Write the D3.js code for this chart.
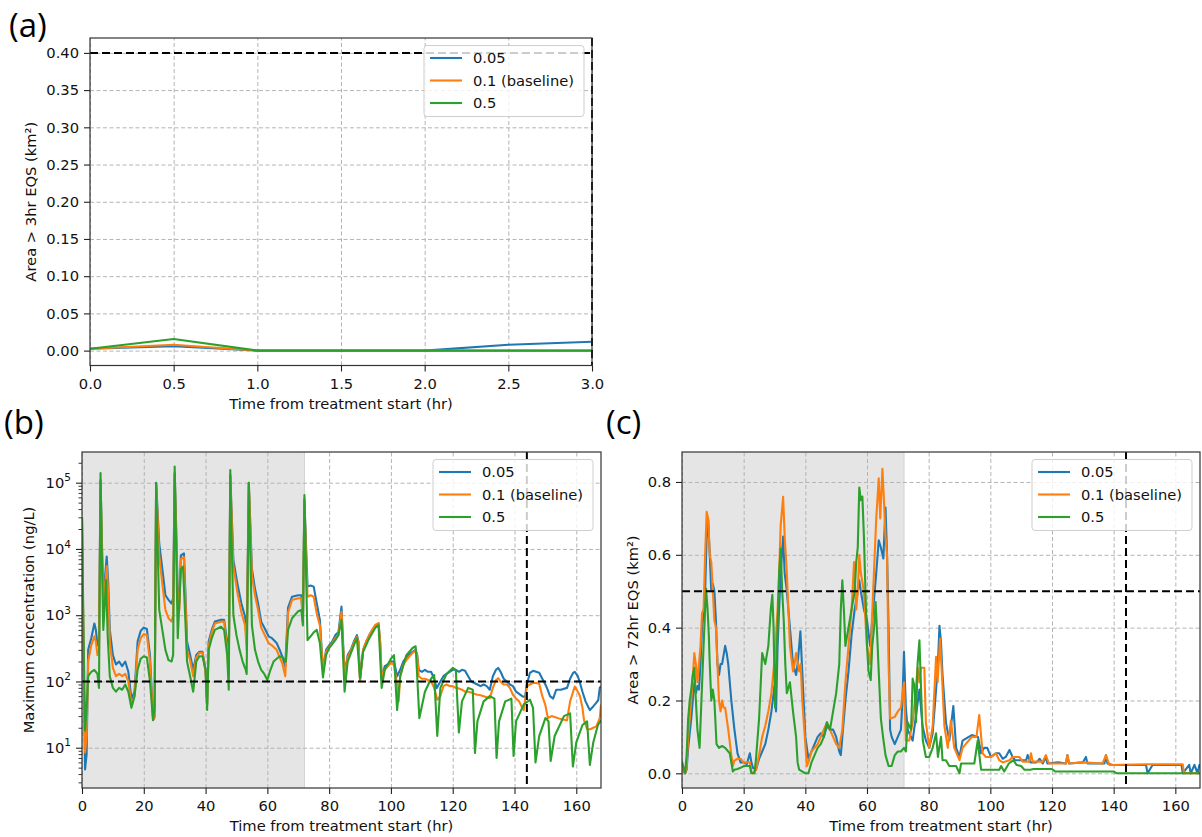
<!DOCTYPE html>
<html>
<head>
<meta charset="utf-8">
<script src="https://cdn.jsdelivr.net/npm/d3@7"></script>
<style>
  body { margin: 0; background: #fff; }
  svg { display: block; font-family: 'DejaVu Sans', sans-serif; }
</style>
</head>
<body>
<div id="chart-area"></div>
<script>
// series names and colours (matplotlib tab10)
const seriesNames = ['0.05', '0.1 (baseline)', '0.5']
const colors = ['#1f77b4', '#ff7f0e', '#2ca02c']

// (a) area above 3hr EQS, km2, half-hourly
const hoursA = [0, 0.5, 1, 1.5, 2, 2.5, 3]
const areaA005 = [0.0025, 0.006, 0, 0, 0, 0.0078, 0.012]
const areaA010 = [0.0025, 0.0078, 0, 0, 0, 0, 0]
const areaA050 = [0.0025, 0.0157, 0, 0, 0, 0, 0]

// (b) maximum concentration, ng/L, [hour, value]
const concB005 = [[0,3e4],[0.5,200],[1,4.7],[1.5,8],[2,300],[3,450],[4,750],[4.5,600],[5,350],[5.5,400],[6,1.1e5],[6.5,1e4],[7,1500],[7.5,4000],[8,7700],[8.5,3000],[9,600],[10,250],[11,180],[12,200],[13,170],[14,200],[15,140],[16,55],[17,70],[18,400],[19,580],[20,650],[21,620],[22,250],[23,28],[23.5,30],[24,1e5],[25,1.2e4],[26,5000],[27,2000],[28,1700],[29,1500],[29.5,1800],[30,1.4e5],[30.5,2e4],[31,2000],[31.5,1500],[32,8000],[33,8600],[33.5,2000],[34,400],[35,250],[36,150],[37,250],[38,280],[39,280],[40,150],[40.5,45],[41,400],[42,600],[43,800],[45,850],[46,850],[47,400],[47.5,150],[48,1.3e5],[49,6800],[50.3,3000],[51.6,1500],[52.8,950],[53.3,380],[54,1e5],[55,5000],[56,2500],[57,1500],[58,800],[59,650],[60.4,480],[61.5,450],[63,380],[64,300],[64.8,240],[65.8,170],[66.7,1300],[68,1900],[70,2000],[71,2000],[71.5,900],[72,5.5e4],[73,2700],[74,2800],[75,2700],[76,1500],[77,850],[78,150],[79,300],[80,350],[81,400],[82,500],[83,550],[84,1350],[84.5,400],[85,130],[86,250],[87,300],[88,400],[89,500],[89.5,400],[90,110],[91,300],[92,400],[93,500],[94,600],[95,700],[96,750],[96.5,400],[97,110],[98,170],[99,180],[100,200],[101,200],[102,120],[103,150],[104,200],[105,230],[106,260],[107,280],[108,300],[108.5,250],[109,150],[110,140],[111,150],[112,140],[113,140],[114,110],[114.8,79],[116,100],[117,120],[118,130],[119,140],[120,150],[121,150],[122,140],[123,150],[124,145],[125,120],[126,100],[127,95],[128,90],[129,85],[130,90],[131,85],[132,75],[133,120],[134,150],[134.7,160],[135.5,140],[136.5,110],[137.5,100],[138.5,90],[139.5,85],[140.5,70],[141.5,65],[142.5,60],[143.4,58],[144,90],[145,135],[146,145],[147,140],[148,135],[149,110],[150,90],[150.5,80],[151.5,60],[152.5,55],[153.5,75],[155,75],[157,80],[158,110],[159,135],[159.5,140],[160.5,120],[161.2,95],[162,70],[163,50],[164,40],[164.4,37],[165.5,42],[166.5,48],[167.1,52],[167.6,80],[168,85]]
const concB010 = [[0,3e4],[0.5,300],[1,8.5],[1.5,15],[2,200],[3,350],[4,480],[4.5,400],[5,250],[5.5,300],[6,1e5],[6.5,8000],[7,1200],[7.5,3000],[8,5500],[8.5,2000],[9,400],[10,160],[11,120],[12,130],[13,120],[14,130],[15,100],[16,45],[17,60],[18,300],[19,450],[20,520],[21,500],[22,200],[23,26],[23.5,28],[24,9.5e4],[25,8000],[26,3000],[27,1200],[28,900],[29,800],[29.5,1000],[30,1.3e5],[30.5,1.5e4],[31,1500],[31.5,1200],[32,7000],[33,7500],[33.5,1500],[34,300],[35,210],[36,120],[37,230],[38,270],[39,270],[40,140],[40.5,45],[41,350],[42,550],[43,750],[45,800],[46,800],[47,300],[47.5,120],[48,1.2e5],[49,5400],[50.3,2200],[51.6,1100],[52.8,700],[53.3,300],[54,9.5e4],[55,4000],[56,2000],[57,1200],[58,650],[59,520],[60.4,380],[61.5,350],[63,300],[64,230],[64.8,190],[65.8,120],[66.7,1100],[68,1700],[70,1800],[71,1800],[71.5,800],[72,5e4],[73,1900],[74,2000],[75,1900],[76,1050],[77,700],[78,150],[79,280],[80,330],[81,380],[82,450],[83,500],[84,1130],[84.5,350],[85,120],[86,230],[87,290],[88,380],[89,470],[89.5,380],[90,100],[91,300],[92,400],[93,500],[94,600],[95,720],[96,760],[96.5,400],[97,120],[98,150],[99,170],[100,190],[101,180],[102,90],[102.5,50],[103,120],[104,180],[105,210],[106,240],[107,270],[108,290],[108.5,250],[109,120],[110,110],[111,110],[112,105],[113,100],[114,80],[115,53],[116,60],[117,85],[118,90],[119,85],[120,85],[121,80],[122,78],[123,75],[124,70],[125,70],[126,68],[127,65],[128,63],[129,62],[130,60],[131,58],[132,56],[133,80],[134,105],[134.7,112],[135.5,100],[136.5,90],[137.5,90],[138.5,80],[139.5,63],[140.5,55],[141.5,50],[142.5,40],[143,37],[144,84],[145,90],[146,95],[147,95],[148,92],[149,60],[150,44],[150.8,28],[152,30],[153,29],[155,27],[157,26],[158,50],[159.5,84],[160.5,70],[161.2,60],[162,40],[162.5,26],[163.5,19],[164.5,19],[165.5,20],[166.5,21],[167.6,28],[168,45]]
const concB050 = [[0,3e4],[0.5,500],[1,18],[1.5,40],[2,120],[3,140],[4,150],[5,130],[5.5,80],[6,1.4e5],[6.5,5000],[6.9,600],[7.8,3400],[8.3,500],[9,120],[10,80],[11,70],[12,80],[13,75],[14,90],[15,70],[16,40],[17,60],[18,150],[19,220],[20,240],[21,230],[22,100],[23,26],[23.5,40],[24,9.8e4],[24.5,1e4],[25,1200],[26,600],[27,300],[28,210],[29,200],[29.5,250],[30,1.75e5],[30.5,1e4],[31,450],[31.5,1500],[32,5000],[32.7,5400],[33.5,760],[34,200],[35,120],[36,70],[37,200],[38,240],[39,240],[40,150],[40.5,37],[41,300],[42,450],[43,600],[45,670],[46,600],[47,250],[47.5,75],[48,1.55e5],[48.5,1e4],[49,1000],[50,500],[51,300],[52,200],[53,150],[53.3,130],[54,1e5],[54.5,8000],[55,700],[56,300],[57,200],[58,150],[59,130],[60,105],[61,150],[62,200],[63,220],[64,240],[65,230],[66,200],[66.7,600],[68,900],[70,1150],[71,1200],[71.5,700],[72,6.5e4],[72.5,5000],[73,420],[74,480],[75,550],[76,600],[77,380],[78,115],[79,250],[80,320],[82,420],[83,500],[84,850],[85,70],[86,200],[88,350],[89,450],[90,110],[91,280],[93,450],[95,650],[96,700],[97,80],[98,150],[100,220],[101,250],[102,37],[103,120],[105,250],[107,320],[108,340],[109.2,28],[111,70],[113,110],[114,125],[115,15],[116,80],[118,130],[120,160],[121,150],[122,17],[123,50],[125,80],[126.5,75],[127.2,8.3],[128,25],[130,50],[132,60],[133.5,55],[134.2,7],[135,25],[137,50],[139,55],[139.7,7.5],[140.5,25],[143,45],[145,53],[146,40],[146.8,6],[148,15],[150,28],[151,25],[151.7,6.3],[153,15],[156,30],[158,33],[158.9,5.2],[160,12],[162,22],[163.5,25],[164.4,5.5],[165.5,12],[167,22],[168,26]]

// (c) area above 72hr EQS, km2, [hour, value]
const areaC005 = [[0,0.01],[0.5,0.005],[1,0],[1.5,0.01],[2,0.07],[3,0.15],[4,0.25],[4.5,0.22],[5,0.24],[5.5,0.23],[6,0.3],[6.5,0.4],[7,0.44],[7.5,0.5],[8,0.65],[8.5,0.695],[9,0.6],[9.5,0.5],[10,0.52],[10.5,0.5],[11,0.42],[11.5,0.3],[12,0.27],[12.5,0.3],[13,0.3],[14,0.35],[14.5,0.33],[15,0.3],[16,0.2],[17,0.12],[18,0.055],[19,0.03],[20,0.03],[21,0.025],[22,0.055],[22.5,0.03],[23,0.015],[24,0.01],[25,0.04],[26,0.06],[27,0.08],[28,0.12],[29,0.17],[30,0.24],[30.5,0.17],[31,0.35],[32,0.55],[32.8,0.65],[33.3,0.55],[34,0.5],[35,0.4],[36,0.3],[37,0.27],[37.5,0.3],[38.4,0.39],[39,0.28],[40,0.1],[41,0.04],[42,0.06],[43,0.08],[44,0.1],[45,0.11],[46,0.1],[47,0.13],[48,0.12],[49,0.12],[50,0.1],[51,0.06],[51.5,0.05],[52,0.1],[53,0.2],[54,0.28],[55,0.38],[56,0.45],[57,0.5],[57.5,0.53],[58,0.5],[59,0.45],[60,0.42],[61,0.35],[62,0.45],[63,0.55],[63.8,0.64],[64.5,0.62],[65.3,0.59],[66,0.73],[66.5,0.6],[67,0.4],[67.5,0.12],[68,0.1],[69,0.08],[70,0.1],[71,0.12],[71.5,0.2],[72,0.334],[72.6,0.18],[73.2,0.12],[74.8,0.09],[75.9,0.16],[77,0.23],[78,0.13],[79.1,0.09],[80.2,0.07],[81.3,0.11],[82.4,0.23],[83,0.3],[83.5,0.405],[84,0.36],[84.5,0.27],[85.6,0.14],[86.7,0.09],[88,0.185],[88.9,0.07],[90,0.045],[91,0.09],[93,0.1],[94,0.105],[96,0.1],[97,0.055],[98,0.07],[99,0.07],[100.2,0.045],[101.8,0.055],[102.9,0.055],[104,0.04],[105,0.045],[106.2,0.064],[107.2,0.045],[108,0.036],[111.6,0.036],[112.1,0.05],[113,0.03],[115,0.03],[116,0.04],[117,0.027],[118,0.045],[118.5,0.027],[122,0.03],[124.5,0.027],[125,0.05],[125.5,0.027],[130,0.03],[131,0.045],[131.5,0.027],[137,0.027],[137.5,0.05],[138,0.027],[139.7,0.023],[150.5,0.023],[151,0],[152.6,0.023],[162,0.023],[162.4,0],[164.5,0.023],[165,0],[166.2,0.023],[167.2,0],[167.8,0.023],[168,0.023]]
const areaC010 = [[0,0.01],[0.5,0.005],[1,0],[1.5,0.02],[2,0.1],[3,0.2],[4,0.33],[4.5,0.3],[5,0.25],[5.5,0.3],[6,0.35],[6.5,0.44],[7,0.45],[7.5,0.6],[8,0.718],[8.5,0.7],[9,0.6],[9.5,0.58],[10,0.5],[10.5,0.42],[11,0.4],[11.5,0.3],[12,0.2],[12.5,0.17],[13,0.2],[13.5,0.18],[14,0.18],[15,0.12],[16,0.05],[16.5,0.02],[17,0.035],[18,0.04],[19,0.04],[20,0.03],[21,0.03],[22,0.03],[22.5,0.005],[23,0],[24,0.01],[25,0.05],[26,0.1],[27,0.13],[28,0.17],[29,0.22],[30,0.31],[31,0.45],[31.5,0.55],[32,0.68],[32.8,0.759],[33.3,0.65],[34,0.55],[34.5,0.45],[35,0.35],[36,0.28],[36.5,0.3],[37,0.33],[38,0.28],[38.5,0.3],[39,0.2],[40,0.08],[40.5,0.02],[41,0.03],[42,0.06],[43,0.07],[44,0.08],[45,0.1],[46,0.12],[47,0.14],[48,0.12],[49,0.1],[50,0.08],[51,0.07],[52,0.12],[53,0.25],[54,0.35],[55,0.45],[55.8,0.58],[56.5,0.45],[57,0.5],[57.5,0.6],[58,0.55],[59,0.5],[59.5,0.42],[60,0.35],[61,0.3],[61.5,0.4],[62,0.5],[62.5,0.6],[63,0.7],[63.8,0.81],[64.3,0.7],[65,0.836],[65.5,0.75],[66,0.65],[66.5,0.6],[67,0.3],[67.5,0.15],[69,0.155],[70,0.17],[71,0.18],[72,0.25],[72.6,0.09],[73.7,0.09],[74.8,0.14],[75.5,0.2],[76.4,0.29],[77,0.25],[77.5,0.29],[78.6,0.29],[79.1,0.14],[80.2,0.07],[81.3,0.13],[82,0.25],[82.4,0.32],[82.9,0.25],[83.7,0.37],[84.3,0.27],[85.1,0.13],[86.2,0.07],[87.2,0.145],[88.3,0.07],[90,0.036],[91,0.07],[92,0.08],[93,0.09],[94,0.1],[95.5,0.1],[96.4,0.16],[97.5,0.055],[98.5,0.045],[100.2,0.045],[101.8,0.055],[102.9,0.036],[104,0.03],[106.2,0.036],[107.2,0.045],[109.4,0.045],[110.5,0.032],[112.6,0.032],[113.2,0.055],[113.7,0.032],[117,0.032],[118,0.05],[119,0.027],[124.5,0.027],[125,0.05],[125.6,0.027],[130,0.03],[136.4,0.027],[137.5,0.05],[138.6,0.023],[150.5,0.025],[162.4,0.025],[162.8,0],[168,0]]
const areaC050 = [[0,0.033],[0.5,0.015],[1,0],[1.5,0.05],[2,0.15],[2.5,0.2],[3,0.23],[3.5,0.27],[4,0.29],[4.5,0.2],[5,0.12],[5.7,0.07],[6.3,0.2],[7,0.35],[7.5,0.45],[7.8,0.507],[8.3,0.45],[8.7,0.38],[9,0.3],[9.5,0.2],[10,0.23],[10.5,0.2],[11.2,0.08],[12,0.07],[13,0.075],[14,0.07],[15,0.06],[15.5,0.055],[16.5,0.005],[17,0.01],[18,0.012],[19,0.015],[20,0.02],[22,0.02],[22.5,0],[23.5,0],[24,0.04],[25,0.15],[26,0.33],[27,0.3],[28,0.35],[28.8,0.45],[29.3,0.49],[29.7,0.4],[30.2,0.18],[31,0.4],[31.5,0.55],[32,0.617],[32.5,0.5],[33,0.42],[33.5,0.3],[34,0.22],[35,0.25],[36,0.17],[37,0.1],[37.5,0.03],[38,0.01],[40,0],[41,0],[42,0.03],[43,0.05],[44,0.07],[45,0.08],[46,0.1],[47,0.14],[48,0.12],[49,0.17],[50,0.22],[51,0.3],[51.5,0.45],[52,0.53],[52.5,0.45],[53,0.35],[54,0.4],[55,0.45],[56,0.5],[56.5,0.58],[57,0.62],[57.5,0.785],[58,0.75],[58.5,0.76],[59,0.65],[59.5,0.5],[60,0.35],[60.5,0.28],[61.2,0.256],[61.7,0.35],[62.3,0.4],[62.8,0.47],[63.3,0.38],[63.8,0.28],[64.5,0.15],[65.2,0.1],[66,0.05],[67,0.02],[68,0.02],[69,0.05],[70,0.06],[71,0.06],[72,0.07],[72.6,0.06],[73.2,0.14],[74.3,0.12],[74.8,0.26],[75.4,0.24],[75.9,0.14],[76.4,0.3],[77,0.365],[77.5,0.24],[78.1,0.09],[79.1,0.045],[80.2,0.045],[81.3,0.07],[82.4,0.11],[83,0.045],[84,0.1],[84.5,0.036],[85.6,0.036],[86.7,0.02],[88.9,0.02],[90,0],[90.5,0.027],[94.8,0.027],[95.9,0.09],[97,0.01],[100,0.01],[102.9,0.01],[103.5,0.02],[104.5,0.005],[106,0.027],[107.5,0.036],[108.5,0.023],[110,0.02],[111,0.01],[113,0.01],[114,0.012],[120,0.012],[121,0.005],[140,0.005],[141,0],[168,0]]

// tick values
const ticksAx = [0, 0.5, 1, 1.5, 2, 2.5, 3]
const ticksAy = [0, 0.05, 0.1, 0.15, 0.2, 0.25, 0.3, 0.35, 0.4]
const ticksHours = [0, 20, 40, 60, 80, 100, 120, 140, 160]
const ticksBy = [10, 100, 1e3, 1e4, 1e5]
const ticksCy = [0, 0.2, 0.4, 0.6, 0.8]

const svg = d3.select('#chart-area')
    .append('svg')
    .attr('width', 1202)
    .attr('height', 837)

svg.append('rect').attr('width', 1202).attr('height', 837).attr('fill', '#fff')

const FS = 14.7
const xTitle = 'Time from treatment start (hr)'

const panels = [
    {
        id: 'a', label: '(a)', labelXY: [9, 37],
        left: 90, right: 592, top: 38, bottom: 365.5,
        xDomain: [0, 3], yDomain: [-0.02, 0.42],
        xTicks: ticksAx, yTicks: ticksAy,
        xFormat: d3.format('.1f'), yFormat: d3.format('.2f'),
        series: [d3.zip(hoursA, areaA005), d3.zip(hoursA, areaA010), d3.zip(hoursA, areaA050)],
        hline: 0.4, vline: 3,
        yTitle: 'Area > 3hr EQS (km²)', yTitleX: 36
    },
    {
        id: 'b', label: '(b)', labelXY: [4, 434],
        left: 82, right: 601, top: 452, bottom: 788,
        xDomain: [0, 168], yDomain: [2.465, 2.906e5], log: true,
        xTicks: ticksHours, yTicks: ticksBy,
        xFormat: d3.format('d'),
        series: [concB005, concB010, concB050],
        hline: 100, vline: 144, shade: [0, 72],
        yTitle: 'Maximum concentration (ng/L)', yTitleX: 34
    },
    {
        id: 'c', label: '(c)', labelXY: [606, 434],
        left: 682, right: 1200, top: 452, bottom: 788,
        xDomain: [0, 168], yDomain: [-0.0403, 0.8823],
        xTicks: ticksHours, yTicks: ticksCy,
        xFormat: d3.format('d'), yFormat: d3.format('.1f'),
        series: [areaC005, areaC010, areaC050],
        hline: 0.5, vline: 144, shade: [0, 72],
        yTitle: 'Area > 72hr EQS (km²)', yTitleX: 638
    }
]

function styleAxis(sel) {
    sel.select('.domain').remove()
    sel.selectAll('.tick line').attr('stroke', '#222').attr('stroke-width', 1.1)
    sel.selectAll('.tick text')
        .attr('font-family', "'DejaVu Sans', sans-serif")
        .attr('font-size', FS)
        .attr('fill', '#111')
}

function drawPanel(p) {
    const w = p.right - p.left
    const h = p.bottom - p.top
    const g = svg.append('g').attr('transform', `translate(${p.left},${p.top})`)

    const x = d3.scaleLinear().domain(p.xDomain).range([0, w])
    const y = (p.log ? d3.scaleLog() : d3.scaleLinear()).domain(p.yDomain).range([h, 0])

    // treatment period shading
    if (p.shade) {
        g.append('rect')
            .attr('x', x(p.shade[0]))
            .attr('y', 0)
            .attr('width', x(p.shade[1]) - x(p.shade[0]))
            .attr('height', h)
            .attr('fill', '#e5e5e5')
        g.append('line')
            .attr('x1', x(p.shade[1])).attr('x2', x(p.shade[1]))
            .attr('y1', 0).attr('y2', h)
            .attr('stroke', '#d2d2d2')
    }

    // grid
    const gx = g.append('g')
        .attr('transform', `translate(0,${h})`)
        .call(d3.axisBottom(x).tickValues(p.xTicks).tickSize(-h).tickFormat(''))
    const gy = g.append('g')
        .call(d3.axisLeft(y).tickValues(p.yTicks).tickSize(-w).tickFormat(''))
    ;[gx, gy].forEach(s => {
        s.select('.domain').remove()
        s.selectAll('line')
            .attr('stroke', '#b4b4b4')
            .attr('stroke-width', 1)
            .attr('stroke-dasharray', '4,2.5')
    })

    // data lines
    g.append('clipPath').attr('id', 'clip-' + p.id)
        .append('rect').attr('width', w).attr('height', h)
    const line = d3.line().x(d => x(d[0])).y(d => y(d[1]))
    p.series.forEach((s, i) => {
        g.append('path')
            .datum(s)
            .attr('clip-path', `url(#clip-${p.id})`)
            .attr('fill', 'none')
            .attr('stroke', colors[i])
            .attr('stroke-width', 2.1)
            .attr('stroke-linejoin', 'round')
            .attr('d', line)
    })

    // thresholds
    g.append('line')
        .attr('x1', 0).attr('x2', w)
        .attr('y1', y(p.hline)).attr('y2', y(p.hline))
        .attr('stroke', '#000').attr('stroke-width', 2).attr('stroke-dasharray', '8,4')
    g.append('line')
        .attr('x1', x(p.vline)).attr('x2', x(p.vline))
        .attr('y1', 0).attr('y2', h)
        .attr('stroke', '#000').attr('stroke-width', 2).attr('stroke-dasharray', '8,4')

    // frame
    g.append('rect')
        .attr('width', w).attr('height', h)
        .attr('fill', 'none').attr('stroke', '#333').attr('stroke-width', 1.2)

    // axes
    const xAxis = g.append('g')
        .attr('transform', `translate(0,${h})`)
        .call(d3.axisBottom(x).tickValues(p.xTicks).tickFormat(p.xFormat).tickSize(6).tickPadding(7))
    styleAxis(xAxis)

    const yAxis = g.append('g')
        .call(d3.axisLeft(y).tickValues(p.yTicks).tickFormat(p.log ? () => '' : p.yFormat).tickSize(6).tickPadding(5))
    styleAxis(yAxis)

    if (p.log) {
        yAxis.selectAll('.tick text').each(function (d) {
            const t = d3.select(this)
            t.append('tspan').text('10')
            t.append('tspan').attr('dy', '-0.62em').attr('font-size', 10.5).text(Math.round(Math.log10(d)))
        })
        const minor = []
        for (let e = 0; e <= 5; e++) {
            for (let m = 2; m <= 9; m++) {
                const v = m * Math.pow(10, e)
                if (v > p.yDomain[0] && v < p.yDomain[1]) minor.push(v)
            }
        }
        const ym = g.append('g').call(d3.axisLeft(y).tickValues(minor).tickSize(3.5).tickFormat(''))
        styleAxis(ym)
        ym.selectAll('.tick line').attr('stroke-width', 0.9)
    }

    // axis titles
    g.append('text')
        .attr('x', w / 2).attr('y', h + 43)
        .attr('text-anchor', 'middle')
        .attr('font-size', FS).attr('fill', '#111')
        .text(xTitle)
    svg.append('text')
        .attr('transform', `translate(${p.yTitleX},${(p.top + p.bottom) / 2}) rotate(-90)`)
        .attr('text-anchor', 'middle')
        .attr('font-size', FS).attr('fill', '#111')
        .text(p.yTitle)

    // legend
    const lw = 160
    const lg = g.append('g').attr('transform', `translate(${w - lw - 8},7.5)`)
    lg.append('rect')
        .attr('width', lw).attr('height', 71).attr('rx', 3)
        .attr('fill', '#fff').attr('fill-opacity', 0.8)
        .attr('stroke', '#cfcfcf')
    seriesNames.forEach((name, i) => {
        const cy = 12.5 + i * 22.5
        lg.append('line')
            .attr('x1', 6).attr('x2', 38).attr('y1', cy).attr('y2', cy)
            .attr('stroke', colors[i]).attr('stroke-width', 2.1)
        lg.append('text')
            .attr('x', 49).attr('y', cy).attr('dy', '0.36em')
            .attr('font-size', FS).attr('fill', '#111')
            .text(name)
    })

    // panel letter
    svg.append('text')
        .attr('x', p.labelXY[0]).attr('y', p.labelXY[1])
        .attr('font-family', "'Open Sans', sans-serif")
        .attr('font-size', 33)
        .attr('fill', '#000')
        .text(p.label)
}

panels.forEach(drawPanel)
</script>
</body>
</html>
